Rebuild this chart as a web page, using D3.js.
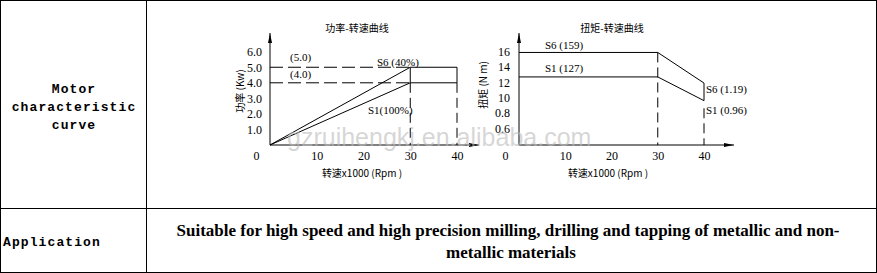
<!DOCTYPE html>
<html lang="en">
<head>
<meta charset="UTF-8">
<title>Motor characteristic curve</title>
<script src="https://d3js.org/d3.v7.min.js"></script>
<style>
  body { margin: 0; background: #fff; }
  svg text { fill: #000; }
</style>
</head>
<body>
<div id="chart"></div>
<script>
// data
const speedTicks = [0, 10, 20, 30, 40];
const powerTicks = [1, 2, 3, 4, 5, 6];
const powerTickLabels = ["1.0", "2.0", "3.0", "4.0", "5.0", "6.0"];
const powerS6 = [[0, 0], [30, 5], [40, 5]];
const powerS1 = [[0, 0], [30, 4], [40, 4]];
const powerRated = [5.0, 4.0];
const torqueTicks = [6, 8, 10, 12, 14, 16];
const torqueTickLabels = ["0.6", "0.8", "10", "12", "14", "16"];
const torqueS6 = [[0, 15.9], [30, 15.9], [40, 11.9]];
const torqueS1 = [[0, 12.7], [30, 12.7], [40, 9.6]];

const W = 877, H = 273;
const svg = d3.select("#chart").append("svg")
    .attr("width", W).attr("height", H);

// table frame
svg.append("rect").attr("x", 0.5).attr("y", 0.5).attr("width", 876).attr("height", 272)
    .attr("fill", "none").attr("stroke", "#000");
svg.append("line").attr("x1", 146.5).attr("x2", 146.5).attr("y1", 0).attr("y2", 273).attr("stroke", "#000");
svg.append("line").attr("x1", 0).attr("x2", 877).attr("y1", 208.5).attr("y2", 208.5).attr("stroke", "#000");

const mono = "'Liberation Mono', monospace";
const left = svg.append("text").attr("font-family", mono).attr("font-size", 13).attr("font-weight", "bold")
    .attr("letter-spacing", 1.1).attr("text-anchor", "middle");
left.append("tspan").attr("x", 74).attr("y", 93).text("Motor");
left.append("tspan").attr("x", 74).attr("y", 111).text("characteristic");
left.append("tspan").attr("x", 74).attr("y", 129).text("curve");
svg.append("text").attr("font-family", mono).attr("font-size", 13).attr("font-weight", "bold")
    .attr("letter-spacing", 1.1).attr("x", 3).attr("y", 246).text("Application");

const app = svg.append("text").attr("font-family", "'Liberation Serif', serif")
    .attr("font-size", 17).attr("font-weight", "bold").attr("text-anchor", "middle");
app.append("tspan").attr("x", 508).attr("y", 236)
    .text("Suitable for high speed and high precision milling, drilling and tapping of metallic and non-");
app.append("tspan").attr("x", 511).attr("y", 258).text("metallic materials");

const cjk = "'Noto Sans CJK SC', sans-serif";
const serif = "'Liberation Serif', serif";

function drawFrame(g, x, y, opt) {
  const x0 = x.range()[0], y0 = y.range()[0];
  // title
  g.append("text").attr("x", opt.titleX).attr("y", 32).attr("text-anchor", "middle")
      .attr("font-family", cjk).attr("font-size", 10).text(opt.title);
  // axes labels through d3 axes
  const ya = g.append("g").attr("transform", `translate(${x0},0)`)
      .call(d3.axisLeft(y).tickValues(opt.yTicks).tickSize(0).tickPadding(opt.yPad)
        .tickFormat((d, i) => opt.yLabels[i]));
  ya.select(".domain").remove();
  ya.selectAll("text").attr("font-family", serif).attr("font-size", 12);
  const xa = g.append("g").attr("transform", `translate(0,${y0})`)
      .call(d3.axisBottom(x).tickValues(speedTicks).tickSize(0).tickPadding(6));
  xa.select(".domain").remove();
  xa.selectAll("text").attr("font-family", serif).attr("font-size", 12)
      .attr("dx", d => d === 0 ? -14 : 0);
  // axis lines with arrows
  g.append("line").attr("x1", x0).attr("x2", x0).attr("y1", y0).attr("y2", 33).attr("stroke", "#000");
  g.append("path").attr("d", `M${x0 - 2},43L${x0},33L${x0 + 2},43Z`).attr("fill", "#000");
  g.append("line").attr("x1", x0).attr("x2", opt.xEnd).attr("y1", y0).attr("y2", y0).attr("stroke", "#000");
  g.append("path").attr("d", `M${opt.xEnd - 10},${y0 - 2}L${opt.xEnd},${y0}L${opt.xEnd - 10},${y0 + 2}Z`).attr("fill", "#000");
  // axis titles
  g.append("text").attr("x", opt.xTitleX).attr("y", 177).attr("text-anchor", "middle")
      .attr("font-family", cjk).attr("font-size", 10).text("转速x1000 (Rpm )");
  g.append("text").attr("transform", `translate(${opt.yTitleX},${opt.yTitleY}) rotate(-90)`)
      .attr("text-anchor", "middle").attr("font-family", cjk).attr("font-size", 10).text(opt.yTitle);
}

const line = (x, y) => d3.line().x(d => x(d[0])).y(d => y(d[1]));

// ---- power chart
{
  const x = d3.scaleLinear().domain([0, 40]).range([270, 457]);
  const y = d3.scaleLinear().domain([0, 6]).range([145, 51.7]);
  const g = svg.append("g");
  drawFrame(g, x, y, {title: "功率-转速曲线", titleX: 357, yTicks: powerTicks, yLabels: powerTickLabels,
    yPad: 8, xEnd: 479, xTitleX: 362, yTitle: "功率 (Kw)", yTitleX: 244, yTitleY: 91});
  const L = line(x, y);
  // dashed guides
  powerRated.forEach(v => {
    g.append("path").attr("d", L([[0, v], [30, v]])).attr("stroke", "#000").attr("fill", "none")
        .attr("stroke-dasharray", "13,5");
  });
  [30, 40].forEach(s => {
    g.append("path").attr("d", L([[s, powerS1[1][1]], [s, 0]])).attr("stroke", "#000").attr("fill", "none")
        .attr("stroke-dasharray", "10,5");
  });
  [powerS6, powerS1].forEach(s => {
    g.append("path").attr("d", L(s)).attr("stroke", "#000").attr("fill", "none");
  });
  [30, 40].forEach(s => {
    g.append("path").attr("d", L([[s, powerS1[1][1]], [s, powerS6[1][1]]])).attr("stroke", "#000").attr("fill", "none");
  });
  const lab = (t, xx, yy) => g.append("text").attr("x", xx).attr("y", yy)
      .attr("font-family", serif).attr("font-size", 11).text(t);
  lab("(5.0)", 290, 61);
  lab("(4.0)", 290, 78);
  lab("S6 (40%)", 377, 66);
  lab("S1(100%)", 368, 114);
}

// ---- torque chart
{
  const x = d3.scaleLinear().domain([0, 40]).range([519, 704]);
  const y = d3.scaleLinear().domain([3.8, 16]).range([145, 51.7]);
  const g = svg.append("g");
  drawFrame(g, x, y, {title: "扭矩-转速曲线", titleX: 612, yTicks: torqueTicks, yLabels: torqueTickLabels,
    yPad: 9, xEnd: 734, xTitleX: 608, yTitle: "扭矩 (N m)", yTitleX: 487, yTitleY: 85});
  const L = line(x, y);
  [torqueS6, torqueS1].forEach(s => {
    g.append("path").attr("d", L(s)).attr("stroke", "#000").attr("fill", "none");
  });
  g.append("path").attr("d", L([[40, torqueS6[2][1]], [40, torqueS1[2][1]]])).attr("stroke", "#000");
  g.append("path").attr("d", L([[30, torqueS6[1][1]], [30, y.domain()[0]]])).attr("stroke", "#000")
      .attr("fill", "none").attr("stroke-dasharray", "10,5");
  g.append("path").attr("d", L([[40, 8.6], [40, y.domain()[0]]])).attr("stroke", "#000")
      .attr("fill", "none").attr("stroke-dasharray", "10,5");
  const lab = (t, xx, yy) => g.append("text").attr("x", xx).attr("y", yy)
      .attr("font-family", serif).attr("font-size", 11).text(t);
  lab("S6 (159)", 545, 49);
  lab("S1 (127)", 545, 72);
  lab("S6 (1.19)", 706, 93);
  lab("S1 (0.96)", 706, 114);
}

// watermark
svg.append("text").attr("x", 287).attr("y", 146).attr("font-family", "'Liberation Sans', Arial, sans-serif")
    .attr("font-size", 25).attr("fill", "#bbb").attr("fill-opacity", 0.6)
    .style("fill", "#bbb").text("gzruihengkj.en.alibaba.com");
</script>
</body>
</html>
